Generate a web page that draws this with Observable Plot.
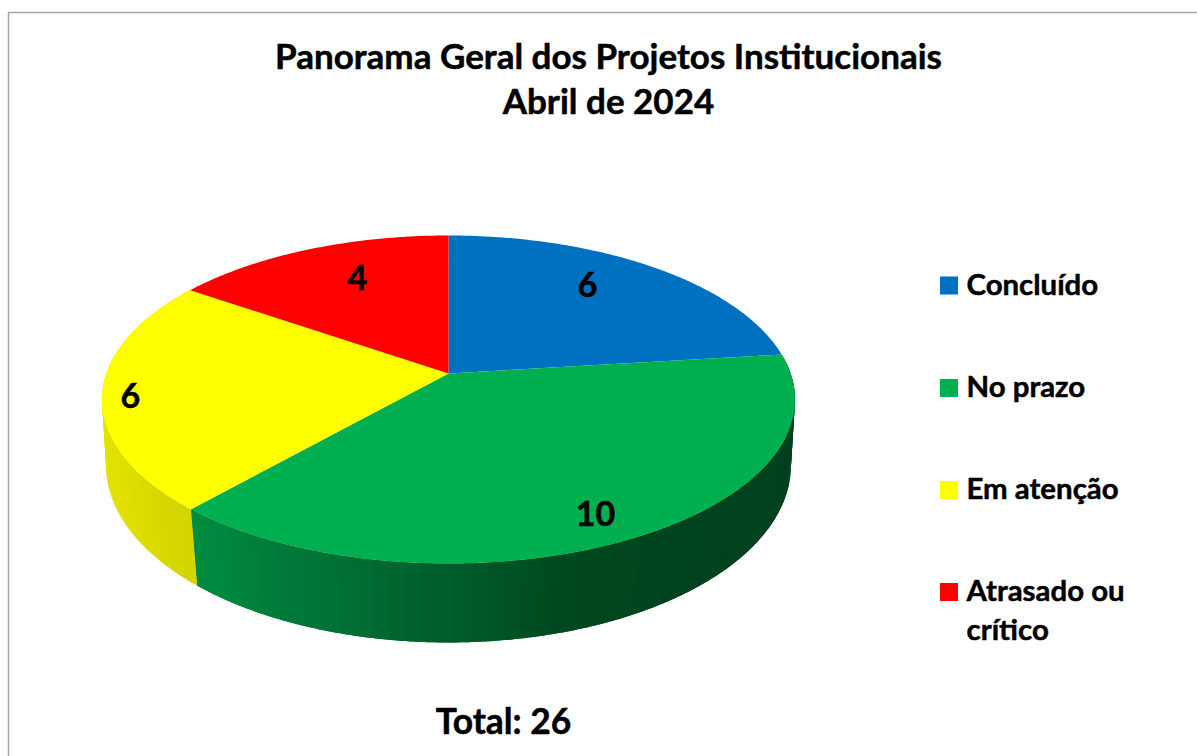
<!DOCTYPE html>
<html lang="pt">
<head>
<meta charset="utf-8">
<script src="https://cdn.jsdelivr.net/npm/d3@7"></script>
<script src="https://cdn.jsdelivr.net/npm/@observablehq/plot@0.6"></script>
<style>
html,body{margin:0;padding:0;background:#fff;overflow:hidden}
svg{display:block}
</style>
</head>
<body>
<div id="chart"></div>
<script>
// Data
const categories = ["Concluído", "No prazo", "Em atenção", "Atrasado ou\ncrítico"];
const values = [6, 10, 6, 4];
const topColors = ["#0070C0", "#00B050", "#FFFF00", "#FF0000"];
const titleText = "Panorama Geral dos Projetos Institucionais\nAbril de 2024";
const totalText = "Total: " + d3.sum(values);

// Label placement, as a fraction of the radius and a turn from the slice's middle
const labelRadius = [0.75, 0.86, 0.92, 0.72];
const labelTurn = [-5.1, 1.7, -1.9, 3.6];

// Side-wall shading, by screen x
const greenShade = d3.scaleLinear().domain([197, 300, 400, 500, 563, 800])
  .range(["#008c40", "#007838", "#006630", "#005427", "#00481f", "#00401e"]).clamp(true);
const yellowShade = d3.scaleLinear().domain([100, 197])
  .range(["#e4e400", "#d2d200"]).clamp(true);
const wallShades = [null, greenShade, yellowShade, null];

const W = 1197, H = 756, FONT = "Lato, Carlito, sans-serif";

// Perspective projection of the pie's top and bottom discs
const cx = 448;
const topDisc = {cy: 373, a: 342.1, b: 159.9, k: 0.1586};
const lowDisc = {cy: 440, a: 339, b: 173.7, k: 0.14};
function project(disc, deg, r = 1) {
  const t = deg * Math.PI / 180, u = r * Math.sin(t), v = -r * Math.cos(t), w = 1 - disc.k * v;
  return {x: cx + disc.a * u / w, y: disc.cy + disc.b * v / w, v};
}

// Slice angles
const total = d3.sum(values);
const cum = d3.cumsum(values);
const slices = values.map((val, i) => ({
  i, start: (cum[i] - val) / total * 360, end: cum[i] / total * 360, color: topColors[i]
}));

// Top faces
const topPoints = slices.flatMap(s => {
  const pts = [{...project(topDisc, 0, 0), id: s.i, color: s.color}];
  for (let a = s.start; a < s.end; a += 0.5) pts.push({...project(topDisc, a), id: s.i, color: s.color});
  pts.push({...project(topDisc, s.end), id: s.i, color: s.color});
  return pts;
});

// Side walls as overlapping strips, so no seam lets the background through
const STEP = 1.2;
const strips = [];
slices.forEach(s => {
  const shade = wallShades[s.i];
  if (!shade) return;
  for (let a = s.start; a < s.end - 1e-6; a += STEP) {
    const mid = project(topDisc, Math.min(a + STEP / 2, s.end));
    const pts = [];
    const far = Math.min(a + 2 * STEP, s.end);
    const n = 6;
    for (let j = 0; j <= n; j++) pts.push(project(topDisc, a + (far - a) * j / n));
    for (let j = n; j >= 0; j--) pts.push(project(lowDisc, a + (far - a) * j / n));
    strips.push({id: `${s.i}-${a}`, depth: mid.v, color: d3.color(shade(mid.x)).formatHex(), pts});
  }
});
strips.sort((p, q) => p.depth - q.depth);
const wallPoints = strips.flatMap(st => st.pts.map(p => ({x: p.x, y: p.y, id: st.id, color: st.color})));

// Value labels
const labels = slices.map(s => ({
  ...project(topDisc, (s.start + s.end) / 2 + labelTurn[s.i], labelRadius[s.i]),
  text: String(values[s.i])
}));

// Legend
const legendY = [285.5, 388, 490, 592];
const legend = categories.map((name, i) => ({name, color: topColors[i], y: legendY[i]}));

const ink = {fontFamily: FONT, fontWeight: 700, fill: "#000", stroke: "#000", strokeWidth: 0.5};

const plot = Plot.plot({
  width: W, height: H, margin: 0,
  x: {domain: [0, W], range: [0, W], axis: null},
  y: {domain: [0, H], range: [0, H], axis: null},
  color: {type: "identity"},
  style: {background: "#fff"},
  marks: [
    Plot.ruleX([8], {y1: 12, y2: H, stroke: "#a6a6a6", strokeWidth: 1.5}),
    Plot.ruleY([12], {x1: 8, x2: W, stroke: "#a6a6a6", strokeWidth: 1.5}),
    Plot.line(wallPoints, {x: "x", y: "y", z: "id", fill: "color", stroke: "none", curve: "linear-closed"}),
    Plot.line(topPoints, {x: "x", y: "y", z: "id", fill: "color", stroke: "none", curve: "linear-closed"}),
    Plot.text(labels, {x: "x", y: "y", text: "text", fontSize: 34, dy: 1, ...ink}),
    Plot.rect(legend, {x1: () => 940, x2: () => 958, y1: d => d.y - 9, y2: d => d.y + 9, fill: "color"}),
    Plot.text(legend, {x: () => 966, y: "y", text: "name", textAnchor: "start", lineAnchor: "top", dy: -19, lineHeight: 1.327,
      fontSize: 29.4, ...ink}),
    Plot.text([titleText], {x: () => 608, y: () => 76.5, text: d => d, lineAnchor: "middle", lineHeight: 1.286,
      fontSize: 35, ...ink}),
    Plot.text([totalText], {x: () => 503, y: () => 722, text: d => d, fontSize: 35.4, ...ink})
  ]
});
document.getElementById("chart").append(plot);
</script>
</body>
</html>
